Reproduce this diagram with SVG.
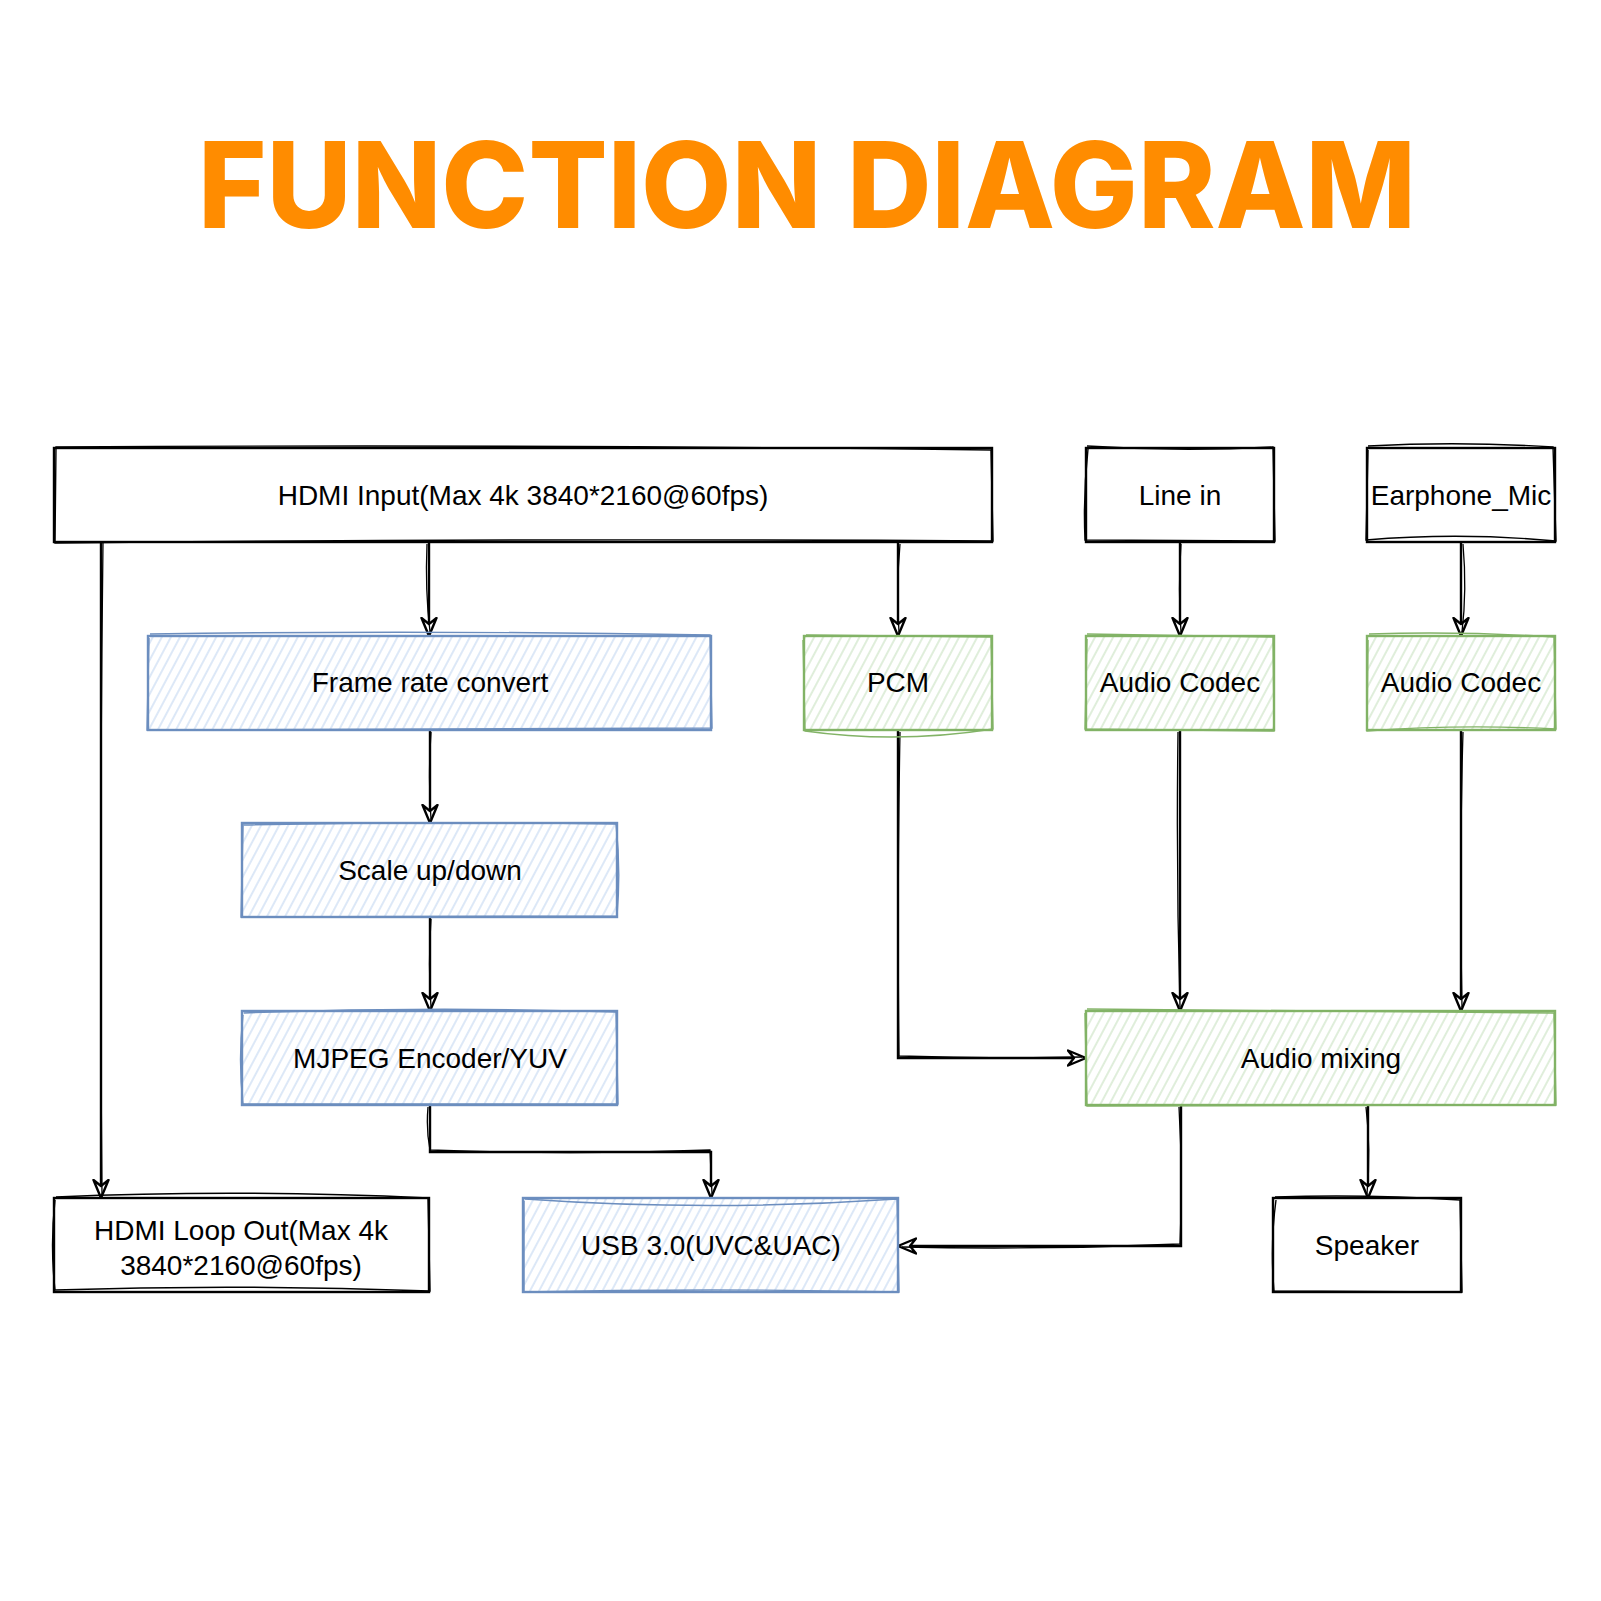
<svg xmlns="http://www.w3.org/2000/svg" width="1601" height="1601" viewBox="0 0 1601 1601">
<defs>
<style>
.bx{fill:#fff;stroke:#000;stroke-width:2.4}
.sk{fill:none;stroke:#000;stroke-width:1.4}
.bl{stroke:#6c8ebf}
.gr{stroke:#82b366}
.nf{fill:none}
.t{font-family:"Liberation Sans",Arial,sans-serif;font-size:28px;fill:#000;text-anchor:middle}
.c{fill:none;stroke:#000;stroke-width:2.4;marker-end:url(#ah)}
.c2{fill:none;stroke:#000;stroke-width:1.3}
.title{font-family:Inter,"Open Sans",sans-serif;font-weight:800;font-size:120px;fill:#ff8c00;text-anchor:middle}
</style>
<pattern id="hb" width="8" height="8" patternUnits="userSpaceOnUse" patternTransform="rotate(28)">
<rect width="8" height="8" fill="#fff"/>
<line x1="2" y1="0" x2="2" y2="8" stroke="#c6d9f3" stroke-width="1.2"/>
</pattern>
<pattern id="hg" width="8" height="8" patternUnits="userSpaceOnUse" patternTransform="rotate(28)">
<rect width="8" height="8" fill="#fff"/>
<line x1="2" y1="0" x2="2" y2="8" stroke="#cbe3c4" stroke-width="1.2"/>
</pattern>
<marker id="ah" viewBox="0 0 20 18" refX="19" refY="9" markerWidth="20" markerHeight="18" markerUnits="userSpaceOnUse" orient="auto">
<path d="M1,1.5 L19,9 L1,16.5 L7,9 Z" fill="#fff" stroke="#000" stroke-width="2.4" stroke-linejoin="round"/>
</marker>
</defs>
<rect width="1601" height="1601" fill="#fff"/>
<text class="title" x="807" y="228" textLength="1218" lengthAdjust="spacingAndGlyphs">FUNCTION DIAGRAM</text>

<g id="connectors">
<path class="c" d="M101,542 L101,1198"/>
<path class="c2" d="M103,542 Q99,870 102,1196"/>
<path class="c" d="M429,542 L429,636"/>
<path class="c2" d="M427,544 Q425,590 430,632"/>
<path class="c" d="M898,542 L898,636"/>
<path class="c2" d="M900,544 Q896,590 899,632"/>
<path class="c" d="M1180,542 L1180,636"/>
<path class="c2" d="M1181,544 Q1178,590 1181,632"/>
<path class="c" d="M1461,542 L1461,636"/>
<path class="c2" d="M1463,544 Q1467,590 1462,632"/>
<path class="c" d="M430,730 L430,823"/>
<path class="c2" d="M431,732 Q428,780 431,819"/>
<path class="c" d="M430,917 L430,1011"/>
<path class="c2" d="M431,919 Q428,965 431,1007"/>
<path class="c" d="M430,1105 L430,1152 L711,1152 L711,1198"/>
<path class="c2" d="M428,1107 Q426,1130 430,1150 Q570,1155 710,1150 L712,1194"/>
<path class="c" d="M898,730 L898,1058 L1086,1058"/>
<path class="c2" d="M900,732 Q897,900 899,1056 Q990,1059 1082,1057"/>
<path class="c" d="M1180,730 L1180,1011"/>
<path class="c2" d="M1178,732 Q1176,870 1180,1007"/>
<path class="c" d="M1461,730 L1461,1011"/>
<path class="c2" d="M1463,732 Q1459,870 1462,1007"/>
<path class="c" d="M1181,1105 L1181,1246 L898,1246"/>
<path class="c2" d="M1179,1107 Q1183,1175 1180,1244 Q1040,1250 902,1247"/>
<path class="c" d="M1368,1105 L1368,1198"/>
<path class="c2" d="M1366,1107 Q1371,1150 1367,1194"/>
</g>

<g id="n-hdmi-input">
<rect class="bx" x="54" y="448" width="938" height="94"/>
<path class="sk" d="M56,447 Q520,444 991,450 L993,541 Q520,538 55,543 Z"/>
<text class="t" x="523" y="505">HDMI Input(Max 4k 3840*2160@60fps)</text>
</g>
<g id="n-line-in">
<rect class="bx" x="1086" y="448" width="188" height="94"/>
<path class="sk" d="M1087,446 Q1180,452 1273,447 L1275,541 L1085,540 Q1083,495 1088,449"/>
<text class="t" x="1180" y="505">Line in</text>
</g>
<g id="n-earphone">
<rect class="bx" x="1367" y="448" width="188" height="94"/>
<path class="sk" d="M1368,446 Q1460,441 1553,447 L1556,541 Q1460,532 1366,540 L1368,450"/>
<text class="t" x="1461" y="505">Earphone_Mic</text>
</g>
<g id="n-frame-rate">
<rect class="bl" x="148" y="636" width="563" height="94" fill="url(#hb)" stroke-width="2.4"/>
<path class="sk bl nf" d="M150,634 Q430,630 710,635 L712,728 L147,730 L149,638"/>
<text class="t" x="430" y="692">Frame rate convert</text>
</g>
<g id="n-pcm">
<rect class="gr" x="804" y="636" width="188" height="94" fill="url(#hg)" stroke-width="2.4"/>
<path class="sk gr nf" d="M806,635 L991,637 L993,729 Q898,744 805,731 L803,640"/>
<text class="t" x="898" y="692">PCM</text>
</g>
<g id="n-codec1">
<rect class="gr" x="1086" y="636" width="188" height="94" fill="url(#hg)" stroke-width="2.4"/>
<path class="sk gr nf" d="M1087,634 L1273,637 L1274,731 L1085,729 L1087,639"/>
<text class="t" x="1180" y="692">Audio Codec</text>
</g>
<g id="n-codec2">
<rect class="gr" x="1367" y="636" width="188" height="94" fill="url(#hg)" stroke-width="2.4"/>
<path class="sk gr nf" d="M1369,634 Q1460,631 1554,637 L1556,729 Q1460,724 1367,731 L1368,640"/>
<text class="t" x="1461" y="692">Audio Codec</text>
</g>
<g id="n-scale">
<rect class="bl" x="242" y="823" width="375" height="94" fill="url(#hb)" stroke-width="2.4"/>
<path class="sk bl nf" d="M243,825 Q430,821 616,824 Q621,870 617,916 L241,917 L243,826"/>
<text class="t" x="430" y="880">Scale up/down</text>
</g>
<g id="n-mjpeg">
<rect class="bl" x="242" y="1011" width="375" height="94" fill="url(#hb)" stroke-width="2.4"/>
<path class="sk bl nf" d="M244,1013 Q430,1006 616,1012 L618,1104 L243,1104 Q238,1060 243,1015"/>
<text class="t" x="430" y="1068">MJPEG Encoder/YUV</text>
</g>
<g id="n-mixing">
<rect class="gr" x="1086" y="1011" width="469" height="94" fill="url(#hg)" stroke-width="2.4"/>
<path class="sk gr nf" d="M1087,1009 L1554,1013 L1556,1105 L1087,1106 L1085,1013"/>
<text class="t" x="1321" y="1068">Audio mixing</text>
</g>
<g id="n-loop-out">
<rect class="bx" x="54" y="1198" width="375" height="94"/>
<path class="sk" d="M56,1197 Q240,1189 428,1198 L430,1291 Q240,1284 55,1290 Q50,1245 55,1200"/>
<text class="t" x="241" y="1240">HDMI Loop Out(Max 4k</text>
<text class="t" x="241" y="1275">3840*2160@60fps)</text>
</g>
<g id="n-usb">
<rect class="bl" x="523" y="1198" width="375" height="94" fill="url(#hb)" stroke-width="2.4"/>
<path class="sk bl nf" d="M525,1199 Q710,1212 897,1199 L899,1292 Q710,1288 524,1292 L524,1201"/>
<text class="t" x="711" y="1255">USB 3.0(UVC&amp;UAC)</text>
</g>
<g id="n-speaker">
<rect class="bx" x="1273" y="1198" width="188" height="94"/>
<path class="sk" d="M1275,1197 Q1367,1194 1460,1200 L1462,1292 L1274,1291 Q1270,1245 1276,1200"/>
<text class="t" x="1367" y="1255">Speaker</text>
</g>
</svg>
